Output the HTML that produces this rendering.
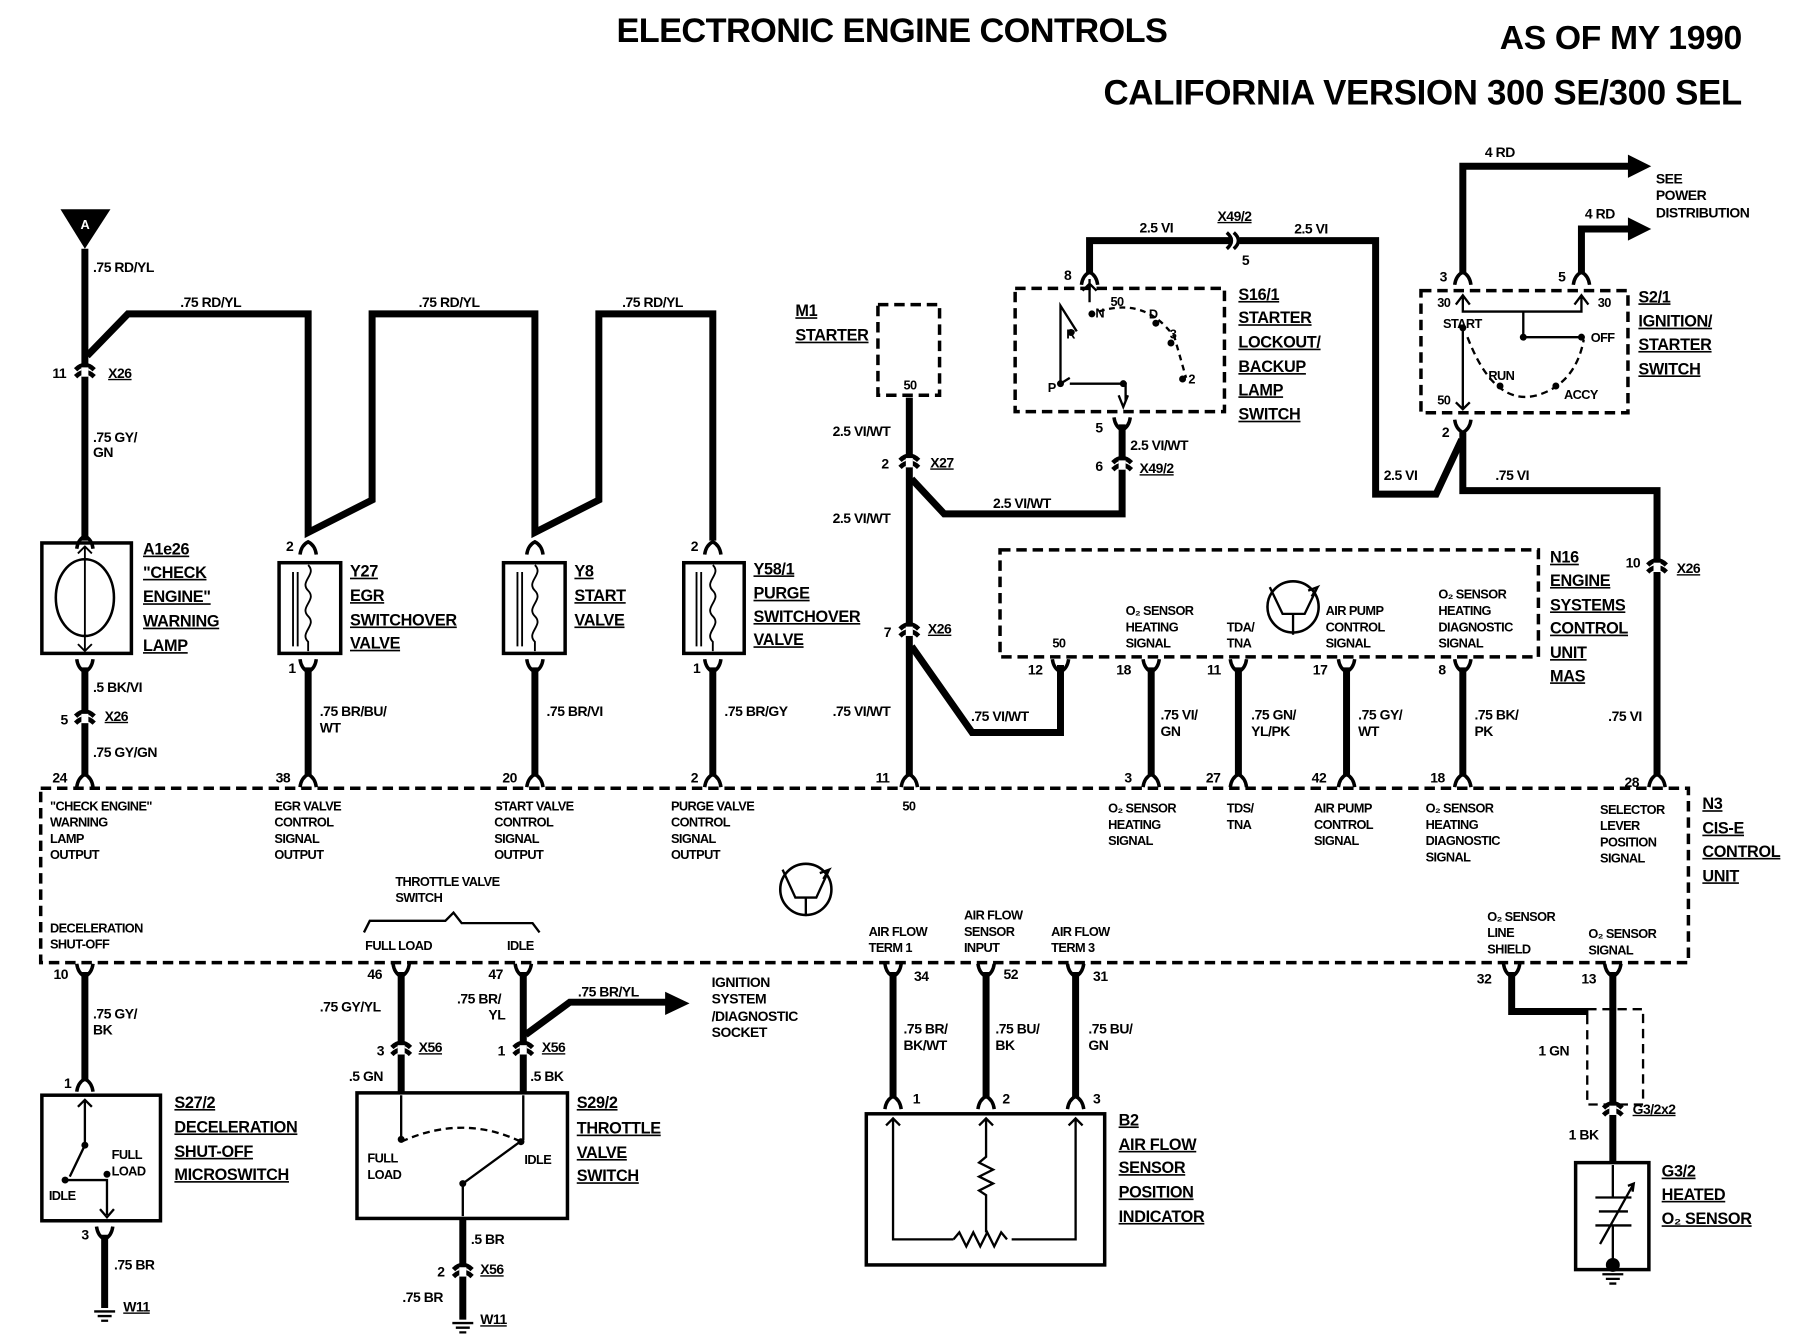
<!DOCTYPE html>
<html><head><meta charset="utf-8"><style>
html,body{margin:0;padding:0;background:#fff;}
svg{display:block;}
text{font-family:"Liberation Sans",sans-serif;font-weight:bold;fill:#000;}
.t{font-size:12px;letter-spacing:-0.4px;}
.s{font-size:11px;letter-spacing:-0.5px;}
.c{font-size:14px;letter-spacing:-0.3px;text-decoration:underline;}
.w{stroke:#000;stroke-width:6;fill:none;stroke-linejoin:miter;}
.d{stroke:#000;stroke-width:3;fill:none;stroke-dasharray:9 5;}
.b{stroke:#000;stroke-width:3;fill:none;}
.n{stroke:#000;stroke-width:1.6;fill:none;}
</style></head><body>
<svg width="1814" height="1344" viewBox="0 0 1560 1156" preserveAspectRatio="none" xmlns="http://www.w3.org/2000/svg">
<defs>
<symbol id="fu" overflow="visible"><path d="M-7 7 Q-6 -1 0 -4 Q6 -1 7 7" stroke="#000" stroke-width="3" fill="none"/></symbol>
<symbol id="fd" overflow="visible"><path d="M-7 -7 Q-6 1 0 4 Q6 1 7 -7" stroke="#000" stroke-width="3" fill="none"/></symbol>
<symbol id="cx" overflow="visible"><path d="M-8 -2 Q0 -10 8 -2 M-8 4 Q0 -4 8 4" stroke="#000" stroke-width="4" fill="none"/><rect x="-3" y="-4" width="6" height="8" fill="#fff"/></symbol>
<symbol id="gnd" overflow="visible"><path d="M-9 0 H9 M-6 4 H6 M-3 8 H3" stroke="#000" stroke-width="2"/></symbol>
</defs>

<!-- titles -->
<text x="767" y="36" style="font-size:29.5px;letter-spacing:-0.5px" text-anchor="middle">ELECTRONIC ENGINE CONTROLS</text>
<text x="1498" y="42" style="font-size:29px;letter-spacing:-0.3px" text-anchor="end">AS OF MY 1990</text>
<text x="1498" y="90" style="font-size:30px;letter-spacing:-0.3px" text-anchor="end">CALIFORNIA VERSION 300 SE/300 SEL</text>

<!-- Left column A -->
<path d="M52 180 H95 L73 214 Z" fill="#000"/>
<text x="73" y="197" class="s" text-anchor="middle" style="fill:#fff">A</text>
<path class="w" d="M73 214 V465"/>
<text x="80" y="234" class="t">.75 RD/YL</text>
<path class="w" d="M75 306 L110 270 H265 V458 L320 430 V270 H460 V458 L515 430 V270 H613 V465"/>
<text x="155" y="264" class="t">.75 RD/YL</text>
<text x="360" y="264" class="t">.75 RD/YL</text>
<text x="535" y="264" class="t">.75 RD/YL</text>
<use href="#cx" x="73" y="320"/><text x="45" y="325" class="t">11</text><text x="93" y="325" class="t" style="text-decoration:underline">X26</text>
<text x="80" y="380" class="t">.75 GY/</text><text x="80" y="393" class="t">GN</text>

<!-- A1e26 -->
<use href="#fu" x="73" y="465"/>
<rect x="36" y="467" width="77" height="95" class="b"/>
<ellipse cx="73" cy="514" rx="25" ry="33" class="n" style="stroke-width:2.2"/>
<path class="n" d="M73 470 V560 M67 476 L73 470 L79 476 M67 554 L73 560 L79 554"/>
<text x="123" y="477" class="c">A1e26</text><text x="123" y="497" class="c">"CHECK</text><text x="123" y="518" class="c">ENGINE"</text><text x="123" y="539" class="c">WARNING</text><text x="123" y="560" class="c">LAMP</text>
<use href="#fd" x="73" y="574"/>
<path class="w" d="M73 574 V668"/>
<text x="80" y="595" class="t">.5 BK/VI</text>
<use href="#cx" x="73" y="618"/><text x="52" y="623" class="t">5</text><text x="90" y="620" class="t" style="text-decoration:underline">X26</text>
<text x="80" y="651" class="t">.75 GY/GN</text>
<use href="#fu" x="73" y="670"/><text x="45" y="673" class="t">24</text>

<!-- Y27 / Y8 / Y58 -->
<g>
<use href="#fu" x="265" y="470"/><text x="246" y="474" class="t">2</text>
<rect x="240" y="484" width="53" height="78" class="b"/>
<path class="n" d="M252 492 V556 M256 492 V556 M265 486 C273 494 257 500 265 508 C273 516 257 522 265 530 C273 538 257 544 265 552 V560"/>
<use href="#fd" x="265" y="574"/><text x="248" y="579" class="t">1</text>
<path class="w" d="M265 574 V668"/><use href="#fu" x="265" y="670"/><text x="237" y="673" class="t">38</text>
<text x="275" y="616" class="t">.75 BR/BU/</text><text x="275" y="630" class="t">WT</text>
<text x="301" y="496" class="c">Y27</text><text x="301" y="517" class="c">EGR</text><text x="301" y="538" class="c">SWITCHOVER</text><text x="301" y="558" class="c">VALVE</text>
</g>
<g>
<use href="#fu" x="460" y="470"/>
<rect x="433" y="484" width="53" height="78" class="b"/>
<path class="n" d="M445 492 V556 M449 492 V556 M460 486 C468 494 452 500 460 508 C468 516 452 522 460 530 C468 538 452 544 460 552 V560"/>
<use href="#fd" x="460" y="574"/>
<path class="w" d="M460 574 V668"/><use href="#fu" x="460" y="670"/><text x="432" y="673" class="t">20</text>
<text x="470" y="616" class="t">.75 BR/VI</text>
<text x="494" y="496" class="c">Y8</text><text x="494" y="517" class="c">START</text><text x="494" y="538" class="c">VALVE</text>
</g>
<g>
<use href="#fu" x="613" y="470"/><text x="594" y="474" class="t">2</text>
<rect x="588" y="484" width="52" height="78" class="b"/>
<path class="n" d="M599 492 V556 M603 492 V556 M613 486 C621 494 605 500 613 508 C621 516 605 522 613 530 C621 538 605 544 613 552 V560"/>
<use href="#fd" x="613" y="574"/><text x="596" y="579" class="t">1</text>
<path class="w" d="M613 574 V668"/><use href="#fu" x="613" y="670"/><text x="594" y="673" class="t">2</text>
<text x="623" y="616" class="t">.75 BR/GY</text>
<text x="648" y="494" class="c">Y58/1</text><text x="648" y="515" class="c">PURGE</text><text x="648" y="535" class="c">SWITCHOVER</text><text x="648" y="555" class="c">VALVE</text>
</g>

<!-- M1 starter -->
<rect x="755" y="262" width="53" height="78" class="d"/>
<text x="684" y="272" class="c">M1</text><text x="684" y="293" class="c">STARTER</text>
<text x="777" y="335" class="s">50</text>
<path class="w" d="M782 342 V668"/>
<text x="716" y="375" class="t">2.5 VI/WT</text>
<use href="#cx" x="782" y="398"/><text x="758" y="403" class="t">2</text><text x="800" y="402" class="t" style="text-decoration:underline">X27</text>
<text x="716" y="450" class="t">2.5 VI/WT</text>
<path class="w" d="M784 412 L812 442 H965 V365"/>
<text x="854" y="437" class="t">2.5 VI/WT</text>
<use href="#cx" x="782" y="543"/><text x="760" y="548" class="t">7</text><text x="798" y="545" class="t" style="text-decoration:underline">X26</text>
<path class="w" d="M784 556 L836 630 H912 V572"/>
<text x="835" y="620" class="t">.75 VI/WT</text>
<text x="716" y="616" class="t">.75 VI/WT</text>
<use href="#fu" x="782" y="670"/><text x="753" y="673" class="t">11</text>

<!-- S16/1 -->
<path class="w" d="M937 236 V207 H1060 M1066 207 H1183 V425 H1235 L1257 378"/>
<text x="980" y="200" class="t">2.5 VI</text>
<text x="1047" y="190" class="t" style="text-decoration:underline">X49/2</text>
<text x="1113" y="201" class="t">2.5 VI</text>
<path d="M1055 200 Q1063 207 1055 214 M1061 200 Q1069 207 1061 214" class="b"/>
<text x="1068" y="228" class="t">5</text>
<use href="#fu" x="937" y="238"/><text x="915" y="241" class="t">8</text>
<rect x="873" y="248" width="180" height="106" class="d"/>
<path class="n" d="M937 240 V260 M931 250 L937 244 L943 250 M926 285 L912 263 V330 L920 325 M920 330 L968 330 V345 M962 340 L966 350 L970 340" style="stroke-width:2"/>
<path class="n" d="M945 268 Q985 255 1010 290 L1020 325" style="stroke-dasharray:5 4;stroke-width:2"/>
<circle cx="921" cy="286" r="3"/><circle cx="939" cy="270" r="3"/><circle cx="994" cy="278" r="3"/><circle cx="1007" cy="295" r="3"/><circle cx="1017" cy="326" r="3"/><circle cx="912" cy="330" r="3"/><circle cx="966" cy="330" r="3"/>
<text x="955" y="263" class="s">50</text><text x="942" y="273" class="s">N</text><text x="917" y="291" class="s">R</text><text x="988" y="274" class="s">D</text><text x="1006" y="291" class="s">3</text><text x="1022" y="330" class="s">2</text><text x="901" y="337" class="s">P</text>
<text x="1065" y="258" class="c">S16/1</text><text x="1065" y="278" class="c">STARTER</text><text x="1065" y="299" class="c">LOCKOUT/</text><text x="1065" y="320" class="c">BACKUP</text><text x="1065" y="340" class="c">LAMP</text><text x="1065" y="361" class="c">SWITCH</text>
<use href="#fd" x="965" y="366"/><text x="942" y="372" class="t">5</text>
<text x="972" y="387" class="t">2.5 VI/WT</text>
<use href="#cx" x="965" y="400"/><text x="942" y="405" class="t">6</text><text x="980" y="407" class="t" style="text-decoration:underline">X49/2</text>

<!-- S2/1 -->
<path class="w" d="M1258 236 V143 H1402"/><path d="M1400 133 L1420 143 L1400 153 Z"/>
<text x="1277" y="135" class="t">4 RD</text>
<path class="w" d="M1360 236 V197 H1402"/><path d="M1400 187 L1420 197 L1400 207 Z"/>
<text x="1363" y="188" class="t">4 RD</text>
<text x="1424" y="158" class="t">SEE</text><text x="1424" y="172" class="t">POWER</text><text x="1424" y="187" class="t">DISTRIBUTION</text>
<use href="#fu" x="1258" y="238"/><text x="1238" y="242" class="t">3</text>
<use href="#fu" x="1360" y="238"/><text x="1340" y="242" class="t">5</text>
<rect x="1222" y="250" width="178" height="105" class="d"/>
<path class="n" d="M1258 254 V268 H1360 V254 M1252 262 L1258 254 L1264 262 M1354 262 L1360 254 L1366 262 M1310 268 V290 H1360 M1258 280 V352 M1252 346 L1258 352 L1264 346" style="stroke-width:2"/>
<path class="n" d="M1262 290 Q1285 350 1322 340 Q1355 330 1362 292" style="stroke-dasharray:6 4;stroke-width:2"/>
<circle cx="1258" cy="282" r="3"/><circle cx="1310" cy="290" r="3"/><circle cx="1360" cy="290" r="3"/><circle cx="1290" cy="332" r="3"/><circle cx="1338" cy="332" r="3"/>
<text x="1236" y="264" class="s">30</text><text x="1374" y="264" class="s">30</text><text x="1241" y="282" class="s">START</text><text x="1368" y="294" class="s">OFF</text><text x="1280" y="327" class="s">RUN</text><text x="1345" y="343" class="s">ACCY</text><text x="1236" y="348" class="s">50</text>
<text x="1409" y="260" class="c">S2/1</text><text x="1409" y="281" class="c">IGNITION/</text><text x="1409" y="301" class="c">STARTER</text><text x="1409" y="322" class="c">SWITCH</text>
<use href="#fd" x="1258" y="368"/><text x="1240" y="376" class="t">2</text>
<path class="w" d="M1258 372 V422 H1425 V668"/>
<text x="1190" y="413" class="t">2.5 VI</text><text x="1286" y="413" class="t">.75 VI</text>
<use href="#cx" x="1425" y="488"/><text x="1398" y="488" class="t">10</text><text x="1442" y="493" class="t" style="text-decoration:underline">X26</text>
<text x="1383" y="620" class="t">.75 VI</text>
<use href="#fu" x="1425" y="670"/><text x="1397" y="677" class="t">28</text>

<!-- N16 -->
<rect x="860" y="473" width="463" height="92" class="d"/>
<text x="1333" y="484" class="c">N16</text><text x="1333" y="504" class="c">ENGINE</text><text x="1333" y="525" class="c">SYSTEMS</text><text x="1333" y="545" class="c">CONTROL</text><text x="1333" y="566" class="c">UNIT</text><text x="1333" y="586" class="c">MAS</text>
<circle cx="1112" cy="522" r="22" class="n" style="stroke-width:2.2"/>
<path class="n" d="M1092 505 L1103 528 H1122 L1133 505 M1112 528 V546 M1128 513 L1133 505 L1125 508" style="stroke-width:2"/>
<text x="905" y="557" class="s">50</text>
<text x="968" y="529" class="s">O₂ SENSOR</text><text x="968" y="543" class="s">HEATING</text><text x="968" y="557" class="s">SIGNAL</text>
<text x="1055" y="543" class="s">TDA/</text><text x="1055" y="557" class="s">TNA</text>
<text x="1140" y="529" class="s">AIR PUMP</text><text x="1140" y="543" class="s">CONTROL</text><text x="1140" y="557" class="s">SIGNAL</text>
<text x="1237" y="515" class="s">O₂ SENSOR</text><text x="1237" y="529" class="s">HEATING</text><text x="1237" y="543" class="s">DIAGNOSTIC</text><text x="1237" y="557" class="s">SIGNAL</text>
<g>
<use href="#fd" x="912" y="574"/><text x="884" y="580" class="t">12</text>
<use href="#fd" x="990" y="574"/><text x="960" y="580" class="t">18</text><path class="w" d="M990 574 V668"/><use href="#fu" x="990" y="670"/><text x="967" y="673" class="t">3</text>
<use href="#fd" x="1065" y="574"/><text x="1038" y="580" class="t">11</text><path class="w" d="M1065 574 V668"/><use href="#fu" x="1065" y="670"/><text x="1037" y="673" class="t">27</text>
<use href="#fd" x="1158" y="574"/><text x="1129" y="580" class="t">17</text><path class="w" d="M1158 574 V668"/><use href="#fu" x="1158" y="670"/><text x="1128" y="673" class="t">42</text>
<use href="#fd" x="1258" y="574"/><text x="1237" y="580" class="t">8</text><path class="w" d="M1258 574 V668"/><use href="#fu" x="1258" y="670"/><text x="1230" y="673" class="t">18</text>
<text x="998" y="619" class="t">.75 VI/</text><text x="998" y="633" class="t">GN</text>
<text x="1076" y="619" class="t">.75 GN/</text><text x="1076" y="633" class="t">YL/PK</text>
<text x="1168" y="619" class="t">.75 GY/</text><text x="1168" y="633" class="t">WT</text>
<text x="1268" y="619" class="t">.75 BK/</text><text x="1268" y="633" class="t">PK</text>
</g>

<!-- N3 -->
<rect x="35" y="678" width="1417" height="150" class="d"/>
<text x="1464" y="696" class="c">N3</text><text x="1464" y="717" class="c">CIS-E</text><text x="1464" y="737" class="c">CONTROL</text><text x="1464" y="758" class="c">UNIT</text>
<g class="s">
<text x="43" y="697" class="s">"CHECK ENGINE"</text><text x="43" y="711" class="s">WARNING</text><text x="43" y="725" class="s">LAMP</text><text x="43" y="739" class="s">OUTPUT</text>
<text x="236" y="697" class="s">EGR VALVE</text><text x="236" y="711" class="s">CONTROL</text><text x="236" y="725" class="s">SIGNAL</text><text x="236" y="739" class="s">OUTPUT</text>
<text x="425" y="697" class="s">START VALVE</text><text x="425" y="711" class="s">CONTROL</text><text x="425" y="725" class="s">SIGNAL</text><text x="425" y="739" class="s">OUTPUT</text>
<text x="577" y="697" class="s">PURGE VALVE</text><text x="577" y="711" class="s">CONTROL</text><text x="577" y="725" class="s">SIGNAL</text><text x="577" y="739" class="s">OUTPUT</text>
<text x="776" y="697" class="s">50</text>
<text x="953" y="699" class="s">O₂ SENSOR</text><text x="953" y="713" class="s">HEATING</text><text x="953" y="727" class="s">SIGNAL</text>
<text x="1055" y="699" class="s">TDS/</text><text x="1055" y="713" class="s">TNA</text>
<text x="1130" y="699" class="s">AIR PUMP</text><text x="1130" y="713" class="s">CONTROL</text><text x="1130" y="727" class="s">SIGNAL</text>
<text x="1226" y="699" class="s">O₂ SENSOR</text><text x="1226" y="713" class="s">HEATING</text><text x="1226" y="727" class="s">DIAGNOSTIC</text><text x="1226" y="741" class="s">SIGNAL</text>
<text x="1376" y="700" class="s">SELECTOR</text><text x="1376" y="714" class="s">LEVER</text><text x="1376" y="728" class="s">POSITION</text><text x="1376" y="742" class="s">SIGNAL</text>
<text x="340" y="762" class="s">THROTTLE VALVE</text><text x="340" y="776" class="s">SWITCH</text>
<text x="43" y="802" class="s">DECELERATION</text><text x="43" y="816" class="s">SHUT-OFF</text>
<text x="314" y="817" class="s">FULL LOAD</text><text x="436" y="817" class="s">IDLE</text>
<text x="747" y="805" class="s">AIR FLOW</text><text x="747" y="819" class="s">TERM 1</text>
<text x="829" y="791" class="s">AIR FLOW</text><text x="829" y="805" class="s">SENSOR</text><text x="829" y="819" class="s">INPUT</text>
<text x="904" y="805" class="s">AIR FLOW</text><text x="904" y="819" class="s">TERM 3</text>
<text x="1279" y="792" class="s">O₂ SENSOR</text><text x="1279" y="806" class="s">LINE</text><text x="1279" y="820" class="s">SHIELD</text>
<text x="1366" y="807" class="s">O₂ SENSOR</text><text x="1366" y="821" class="s">SIGNAL</text>
</g>
<path class="n" d="M313 802 L318 792 H383 L390 785 L397 794 H458 L464 802" style="stroke-width:2"/>
<circle cx="693" cy="765" r="22" class="n" style="stroke-width:2.2"/>
<path class="n" d="M673 748 L684 772 H702 L713 748 M693 772 V788 M708 756 L713 748 L705 751" style="stroke-width:2"/>

<!-- bottom left S27/2 -->
<use href="#fd" x="73" y="836"/><text x="46" y="842" class="t">10</text>
<path class="w" d="M73 836 V930"/>
<text x="80" y="876" class="t">.75 GY/</text><text x="80" y="890" class="t">BK</text>
<use href="#fu" x="73" y="932"/><text x="55" y="936" class="t">1</text>
<rect x="36" y="942" width="102" height="108" class="b"/>
<path class="n" d="M73 946 V985 L60 1012 M67 952 L73 946 L79 952 M56 1015 H92 V1045 M86 1040 L92 1047 L98 1040" style="stroke-width:2"/>
<circle cx="73" cy="985" r="3"/><circle cx="56" cy="1015" r="3"/><circle cx="92" cy="1010" r="3"/>
<text x="96" y="997" class="s">FULL</text><text x="96" y="1011" class="s">LOAD</text><text x="42" y="1032" class="s">IDLE</text>
<text x="150" y="953" class="c">S27/2</text><text x="150" y="974" class="c">DECELERATION</text><text x="150" y="995" class="c">SHUT-OFF</text><text x="150" y="1015" class="c">MICROSWITCH</text>
<use href="#fd" x="90" y="1062"/><text x="70" y="1066" class="t">3</text>
<path class="w" d="M90 1062 V1125"/>
<text x="98" y="1092" class="t">.75 BR</text>
<use href="#gnd" x="90" y="1128"/><text x="106" y="1128" class="t" style="text-decoration:underline">W11</text>

<!-- S29/2 -->
<use href="#fd" x="345" y="836"/><text x="316" y="842" class="t">46</text>
<use href="#fd" x="450" y="836"/><text x="420" y="842" class="t">47</text>
<path class="w" d="M345 836 V940 M450 836 V940 M452 890 L490 862 H575"/><path d="M572 853 L593 863 L572 873 Z"/>
<text x="497" y="857" class="t">.75 BR/YL</text>
<text x="612" y="849" class="t">IGNITION</text><text x="612" y="863" class="t">SYSTEM</text><text x="612" y="878" class="t">/DIAGNOSTIC</text><text x="612" y="892" class="t">SOCKET</text>
<text x="275" y="870" class="t">.75 GY/YL</text>
<text x="393" y="863" class="t">.75 BR/</text><text x="420" y="877" class="t">YL</text>
<use href="#cx" x="345" y="903"/><text x="324" y="908" class="t">3</text><text x="360" y="905" class="t" style="text-decoration:underline">X56</text>
<use href="#cx" x="450" y="903"/><text x="428" y="908" class="t">1</text><text x="466" y="905" class="t" style="text-decoration:underline">X56</text>
<text x="300" y="930" class="t">.5 GN</text><text x="456" y="930" class="t">.5 BK</text>
<rect x="307" y="940" width="181" height="108" class="b"/>
<path class="n" d="M345 942 V980 M450 942 V980 L398 1018 V1046" style="stroke-width:2"/>
<path class="n" d="M345 982 Q398 958 448 982" style="stroke-dasharray:6 4;stroke-width:2"/>
<circle cx="345" cy="980" r="3"/><circle cx="448" cy="982" r="3"/><circle cx="398" cy="1018" r="3"/>
<text x="316" y="1000" class="s">FULL</text><text x="316" y="1014" class="s">LOAD</text><text x="451" y="1001" class="s">IDLE</text>
<text x="496" y="953" class="c">S29/2</text><text x="496" y="975" class="c">THROTTLE</text><text x="496" y="996" class="c">VALVE</text><text x="496" y="1016" class="c">SWITCH</text>
<path class="w" d="M398 1048 V1135"/>
<text x="405" y="1070" class="t">.5 BR</text>
<use href="#cx" x="398" y="1094"/><text x="376" y="1098" class="t">2</text><text x="413" y="1096" class="t" style="text-decoration:underline">X56</text>
<text x="346" y="1120" class="t">.75 BR</text>
<use href="#gnd" x="398" y="1138"/><text x="413" y="1139" class="t" style="text-decoration:underline">W11</text>

<!-- B2 -->
<use href="#fd" x="768" y="836"/><text x="786" y="844" class="t">34</text>
<use href="#fd" x="848" y="836"/><text x="863" y="842" class="t">52</text>
<use href="#fd" x="925" y="836"/><text x="940" y="844" class="t">31</text>
<path class="w" d="M768 836 V945 M848 836 V945 M925 836 V945"/>
<text x="777" y="889" class="t">.75 BR/</text><text x="777" y="903" class="t">BK/WT</text>
<text x="856" y="889" class="t">.75 BU/</text><text x="856" y="903" class="t">BK</text>
<text x="936" y="889" class="t">.75 BU/</text><text x="936" y="903" class="t">GN</text>
<use href="#fu" x="768" y="947"/><text x="785" y="949" class="t">1</text>
<use href="#fu" x="848" y="947"/><text x="862" y="949" class="t">2</text>
<use href="#fu" x="925" y="947"/><text x="940" y="949" class="t">3</text>
<rect x="745" y="958" width="205" height="130" class="b"/>
<path class="n" d="M768 962 V1066 H820 M925 962 V1066 H870 M848 962 V995 L842 1000 L854 1006 L842 1012 L854 1018 L842 1024 L848 1028 V1060 M820 1066 L825 1060 L831 1072 L837 1060 L843 1072 L849 1060 L855 1072 L861 1060 L866 1066 M762 968 L768 962 L774 968 M842 968 L848 962 L854 968 M919 968 L925 962 L931 968" style="stroke-width:2"/>
<text x="962" y="968" class="c">B2</text><text x="962" y="989" class="c">AIR FLOW</text><text x="962" y="1009" class="c">SENSOR</text><text x="962" y="1030" class="c">POSITION</text><text x="962" y="1051" class="c">INDICATOR</text>

<!-- G3/2 -->
<use href="#fd" x="1300" y="836"/><text x="1270" y="846" class="t">32</text>
<use href="#fd" x="1387" y="836"/><text x="1360" y="846" class="t">13</text>
<path class="w" d="M1300 836 V870 H1366 M1387 836 V1000"/>
<rect x="1365" y="868" width="48" height="82" class="n" style="stroke-width:2;stroke-dasharray:8 5"/>
<text x="1323" y="908" class="t">1 GN</text>
<use href="#cx" x="1387" y="955"/><text x="1404" y="958" class="t" style="text-decoration:underline">G3/2x2</text>
<text x="1349" y="980" class="t">1 BK</text>
<rect x="1355" y="1000" width="63" height="92" class="b"/>
<path class="n" d="M1387 1002 V1030 M1372 1030 H1403 M1375 1042 H1400 M1372 1054 H1403 M1387 1054 V1085 M1376 1070 L1405 1018 M1400 1020 L1405 1018 L1404 1025" style="stroke-width:2"/>
<circle cx="1387" cy="1088" r="6"/>
<use href="#gnd" x="1387" y="1096"/>
<text x="1429" y="1012" class="c">G3/2</text><text x="1429" y="1032" class="c">HEATED</text><text x="1429" y="1053" class="c">O₂ SENSOR</text>
</svg>
</body></html>
